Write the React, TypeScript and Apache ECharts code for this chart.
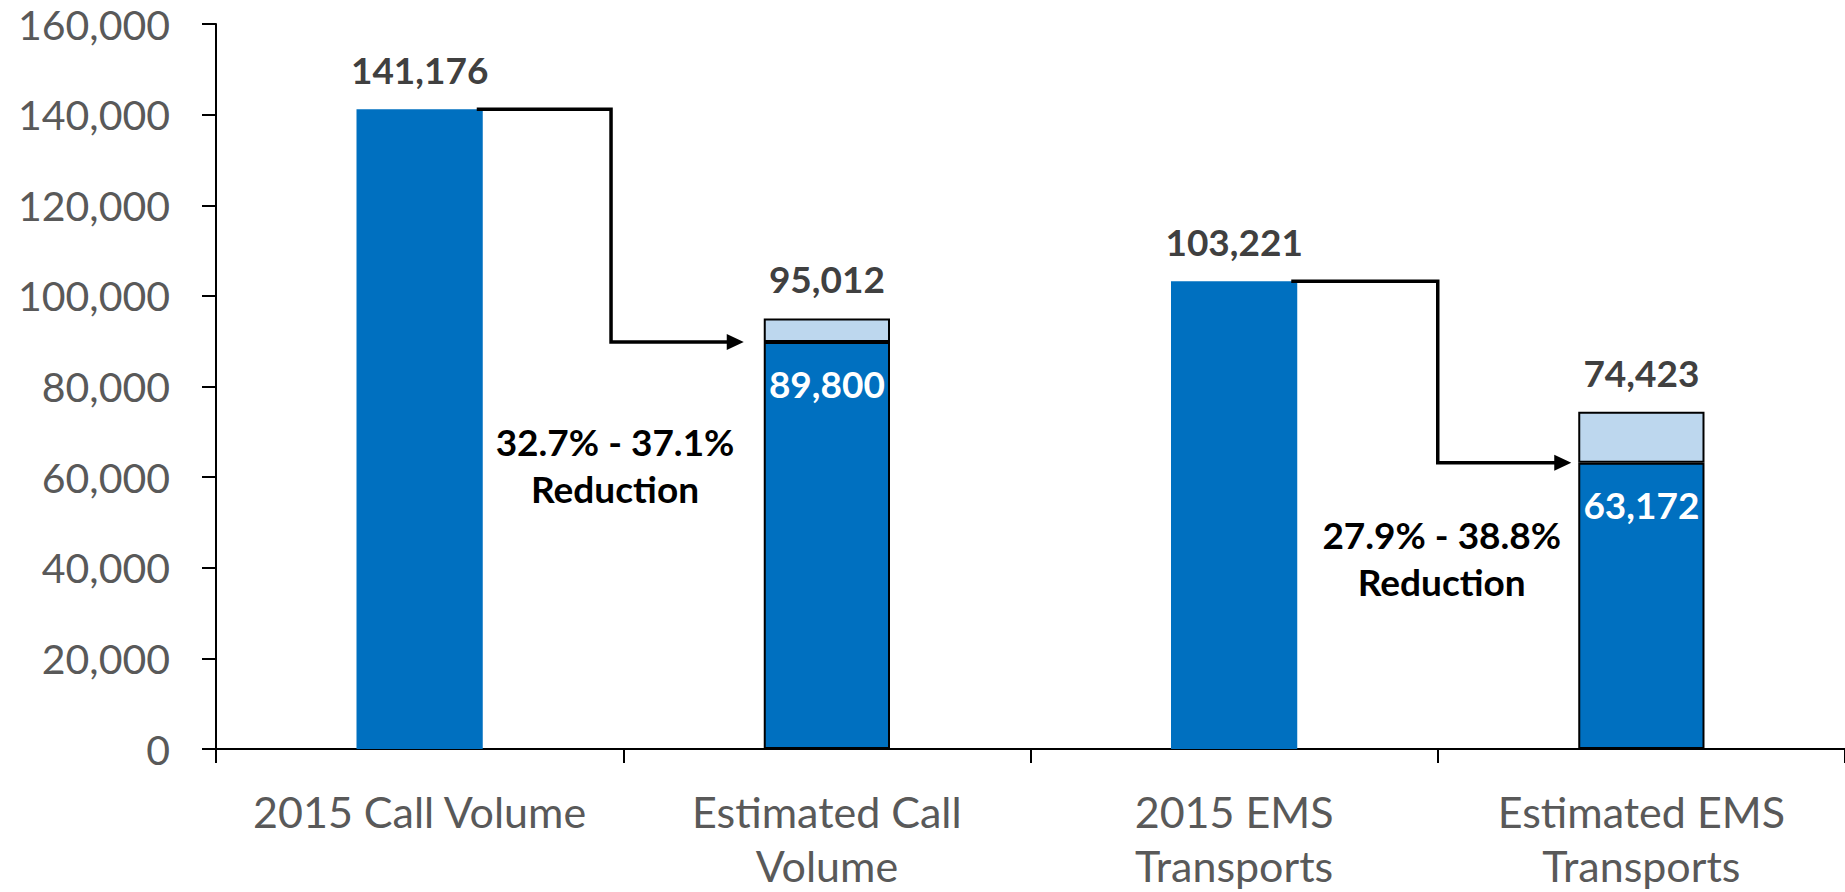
import React, { useEffect, useRef } from "react";
import * as echarts from "echarts";

// ---- data ----
const categories = [
  "2015 Call Volume",
  "Estimated Call\nVolume",
  "2015 EMS\nTransports",
  "Estimated EMS\nTransports",
];
// actual 2015 values, or the low end of the estimate
const baseValues = [141176, 89800, 103221, 63172];
// high end of the estimate (only for the estimated bars)
const highValues: (number | null)[] = [null, 95012, null, 74423];
const yTicks = [0, 20000, 40000, 60000, 80000, 100000, 120000, 140000, 160000];

// reduction connectors: from bar index -> to bar index
const arrowFrom = [0, 2];
const arrowTo = [1, 3];
const reductionText = ["32.7% - 37.1%\nReduction", "27.9% - 38.8%\nReduction"];
const reductionAnchor = [62600, 42100]; // value level of the note's centre

// layout constants (not data)
const elbowFrac = [0.47, 0.5];
const arrowGap = [20, 7];
const BAR_FRAC = 0.31;

const FONT = "Lato, 'Open Sans', sans-serif";
const DARK = "#0070C0";
const LIGHT = "#BDD7EE";
const fmt = (v: number) => v.toLocaleString("en-US");

export default function App() {
  const ref = useRef<HTMLDivElement>(null);

  useEffect(() => {
    if (!ref.current) return;
    const chart = echarts.init(ref.current, undefined, { renderer: "svg" });

    const topLabel = {
      show: true,
      position: "top",
      distance: 21,
      color: "#404040",
      fontFamily: FONT,
      fontWeight: "bold",
      fontSize: 37,
      lineHeight: 37,
    };

    const baseData = baseValues.map((v, i) => {
      const isEstimate = highValues[i] != null;
      if (!isEstimate) {
        return {
          value: v,
          itemStyle: { color: DARK, borderWidth: 0 },
          label: { ...topLabel, formatter: () => fmt(v) },
        };
      }
      return {
        value: v,
        itemStyle: { color: DARK, borderColor: "#000", borderWidth: 2 },
        label: {
          show: true,
          position: "insideTop",
          distance: 23,
          color: "#fff",
          fontFamily: FONT,
          fontWeight: "bold",
          fontSize: 37,
          lineHeight: 37,
          formatter: () => fmt(v),
        },
      };
    });

    const rangeData = highValues.map((h, i) => {
      if (h == null) return "-";
      return {
        value: h - baseValues[i],
        itemStyle: { color: LIGHT, borderColor: "#000", borderWidth: 2 },
        label: { ...topLabel, formatter: () => fmt(h) },
      };
    });

    const axisText = { color: "#595959", fontFamily: FONT, fontSize: 43 };

    const option: any = {
      animation: false,
      grid: {
        left: 216,
        right: 0,
        top: 24,
        bottom: 143,
        containLabel: false,
        outerBoundsMode: "none",
      },
      xAxis: {
        type: "category",
        data: categories,
        boundaryGap: true,
        axisLine: { show: true, lineStyle: { color: "#000", width: 2 } },
        axisTick: {
          show: true,
          interval: 0,
          length: 14,
          lineStyle: { color: "#000", width: 2 },
        },
        axisLabel: {
          interval: 0,
          margin: 23,
          ...axisText,
          formatter: (v: string) =>
            v
              .split("\n")
              .map((s, k) => (k === 0 ? `{a|${s}}` : `{b|${s}}`))
              .join("\n"),
          rich: {
            a: { ...axisText, lineHeight: 78 },
            b: { ...axisText, lineHeight: 30 },
          },
        },
      },
      yAxis: {
        type: "value",
        min: yTicks[0],
        max: yTicks[yTicks.length - 1],
        interval: yTicks[1] - yTicks[0],
        splitLine: { show: false },
        axisLine: { show: true, lineStyle: { color: "#000", width: 2 } },
        axisTick: { show: true, length: 14, lineStyle: { color: "#000", width: 2 } },
        axisLabel: {
          margin: 46,
          color: "#595959",
          fontFamily: FONT,
          fontSize: 41,
          formatter: (v: number) => fmt(v),
        },
      },
      series: [
        {
          type: "bar",
          name: "base",
          stack: "total",
          barWidth: BAR_FRAC * 100 + "%",
          data: baseData,
          z: 2,
        },
        {
          type: "bar",
          name: "range",
          stack: "total",
          barWidth: BAR_FRAC * 100 + "%",
          data: rangeData,
          z: 2,
        },
        {
          type: "custom",
          name: "reduction",
          z: 5,
          clip: false,
          data: arrowFrom.map((a) => [a, baseValues[a]]),
          renderItem: (params: any, api: any) => {
            const i = params.dataIndex;
            const a = arrowFrom[i];
            const b = arrowTo[i];
            const p0 = api.coord([a, baseValues[a]]);
            const p1 = api.coord([b, baseValues[b]]);
            const bw = api.size([1, 0])[0] * BAR_FRAC;
            const x0 = p0[0] + bw / 2 - 6;
            const xe = p0[0] + (p1[0] - p0[0]) * elbowFrac[i];
            const xt = p1[0] - bw / 2 - arrowGap[i];
            const y0 = p0[1];
            const y1 = p1[1];
            const ty = api.coord([a, reductionAnchor[i]])[1];
            return {
              type: "group",
              children: [
                {
                  type: "polyline",
                  shape: {
                    points: [
                      [x0, y0],
                      [xe, y0],
                      [xe, y1],
                      [xt - 14, y1],
                    ],
                  },
                  style: { stroke: "#000", lineWidth: 3.5, fill: null },
                },
                {
                  type: "polygon",
                  shape: {
                    points: [
                      [xt - 17, y1 - 8],
                      [xt, y1],
                      [xt - 17, y1 + 8],
                    ],
                  },
                  style: { fill: "#000", stroke: null },
                },
                {
                  type: "text",
                  x: xe + 4,
                  y: ty,
                  style: {
                    text: reductionText[i],
                    fill: "#000",
                    fontFamily: FONT,
                    fontWeight: "bold",
                    fontSize: 37,
                    lineHeight: 47,
                    align: "center",
                    verticalAlign: "middle",
                  },
                },
              ],
            };
          },
        },
      ],
    };

    chart.setOption(option);
    return () => chart.dispose();
  }, []);

  return (
    <div
      ref={ref}
      style={{ position: "absolute", left: 0, top: 0, width: 1845, height: 892, background: "#fff" }}
    />
  );
}
